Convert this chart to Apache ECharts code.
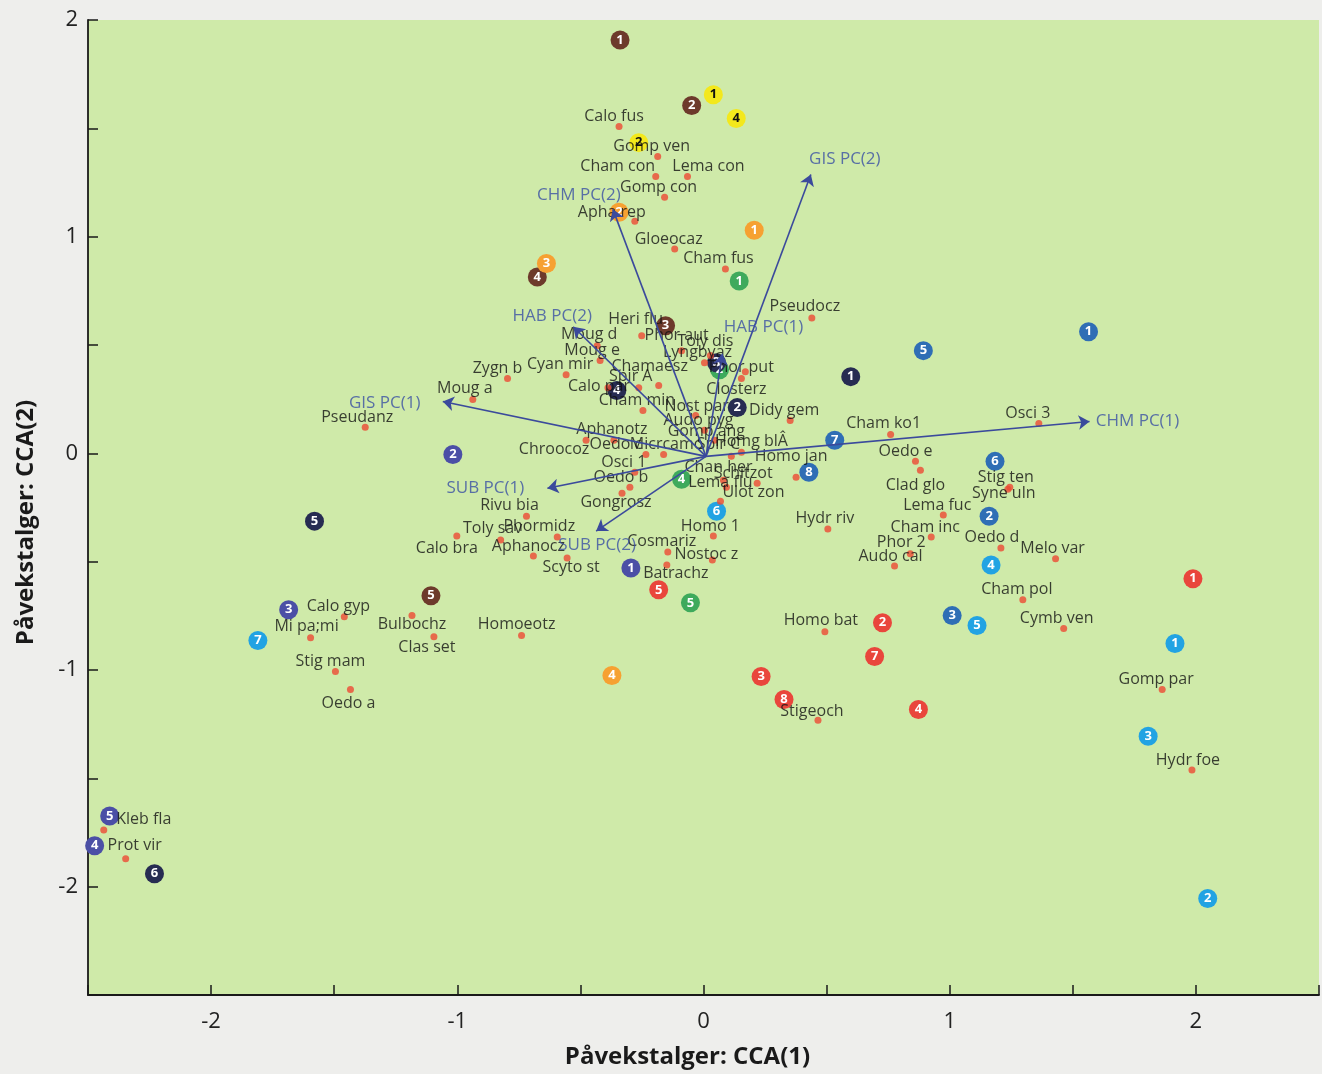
<!DOCTYPE html>
<html><head><meta charset="utf-8">
<script src="https://cdn.jsdelivr.net/npm/echarts@6/dist/echarts.min.js"></script>
<style>html,body{margin:0;padding:0;background:#eeeeec;} #c{width:1322px;height:1074px;}</style>
</head><body><div id="c"></div>
<script>
// ---- Species (red dots) ----
const speciesNames = ['Calo fus','Gomp ven','Cham con','Lema con','Gomp con','Apha rep','Gloeocaz','Cham fus','Pseudocz','Heri flu',
 'Phor aut','Moug d','Moug e','Toly dis','Lyngbyaz','Zygn b','Cyan mir','Chamaesz','Spir A','Calo par',
 'Phor put','Closterz','Moug a','Cham min','Nost par','Didy gem','Audo pyg','Gomp ang','Aphanotz','Chroocoz',
 'Oedo c','Micrcamo','Spir C','Homg blÂ','Homo jan','Osci 1','Chan her','Schitzot','Lema flu','Oedo b',
 'Gongrosz','Ulot zon','Homo 1','Cosmariz','Nostoc z','Batrachz','Rivu bia','Toly sav','Phormidz','Calo bra',
 'Aphanocz','Scyto st','Homoeotz','Pseudanz','Calo gyp','Mi pa;mi','Bulbochz','Clas set','Stig mam','Oedo a',
 'Kleb fla','Prot vir','Cham ko1','Osci 3','Oedo e','Clad glo','Stig ten','Syne uln','Lema fuc','Hydr riv',
 'Cham inc','Phor 2','Audo cal','Oedo d','Melo var','Cham pol','Homo bat','Cymb ven','Stigeoch','Gomp par','Hydr foe'];
const speciesX = [-0.343,-0.186,-0.194,-0.065,-0.158,-0.279,-0.117,0.089,0.440,-0.251,
 -0.089,-0.432,-0.420,0.028,0.004,-0.796,-0.558,-0.182,-0.263,-0.388,
 0.170,0.154,-0.937,-0.246,-0.032,0.352,0.004,0.044,-0.364,-0.477,
 -0.234,-0.162,0.113,0.154,0.376,-0.279,0.081,0.218,0.093,-0.299,
 -0.331,0.069,0.040,-0.145,0.036,-0.149,-0.719,-0.824,-0.594,-1.002,
 -0.691,-0.554,-0.739,-1.374,-1.459,-1.596,-1.184,-1.095,-1.495,-1.434,
 -2.436,-2.347,0.760,1.362,0.861,0.881,1.244,1.236,0.974,0.505,
 0.925,0.840,0.776,1.208,1.430,1.297,0.493,1.463,0.465,1.863,1.984];
const speciesY = [1.508,1.370,1.278,1.278,1.182,1.071,0.943,0.851,0.625,0.543,
 0.474,0.497,0.428,0.451,0.418,0.345,0.363,0.313,0.303,0.303,
 0.377,0.345,0.248,0.198,0.175,0.152,0.106,0.060,0.060,0.060,
 -0.005,-0.005,-0.014,0.005,-0.110,-0.087,-0.124,-0.138,-0.156,-0.156,
 -0.184,-0.221,-0.382,-0.455,-0.492,-0.515,-0.290,-0.400,-0.386,-0.382,
 -0.474,-0.483,-0.841,0.120,-0.754,-0.851,-0.749,-0.846,-1.007,-1.090,
 -1.738,-1.871,0.087,0.138,-0.037,-0.078,-0.156,-0.166,-0.285,-0.349,
 -0.386,-0.464,-0.520,-0.437,-0.487,-0.676,-0.823,-0.809,-1.232,-1.090,-1.462];

// ---- Sites (numbered circles), one list per group: [number, x, y] ----
const brownSites  = [[1,-0.339,1.908],[2,-0.048,1.605],[3,-0.154,0.589],[4,-0.675,0.814],[5,-1.107,-0.657]];
const yellowSites = [[1,0.040,1.655],[2,-0.263,1.434],[4,0.133,1.545]];
const orangeSites = [[1,0.206,1.030],[2,-0.343,1.113],[3,-0.638,0.876],[4,-0.372,-1.025]];
const greenSites  = [[1,0.145,0.795],[2,0.065,0.386],[4,-0.089,-0.120],[5,-0.053,-0.690]];
const navySites   = [[1,0.598,0.354],[2,0.137,0.211],[3,0.053,0.418],[4,-0.352,0.290],[5,-1.580,-0.313],[6,-2.230,-1.940]];
const indigoSites = [[1,-0.295,-0.529],[2,-1.018,-0.005],[3,-1.685,-0.722],[4,-2.473,-1.811],[5,-2.412,-1.674]];
const blueSites   = [[1,1.564,0.561],[2,1.160,-0.290],[3,1.010,-0.749],[5,0.893,0.474],[6,1.184,-0.037],[7,0.533,0.060],[8,0.428,-0.087]];
const cyanSites   = [[1,1.915,-0.878],[2,2.048,-2.055],[3,1.806,-1.306],[4,1.168,-0.515],[5,1.111,-0.795],[6,0.053,-0.267],[7,-1.810,-0.864]];
const redSites    = [[1,1.988,-0.579],[2,0.727,-0.782],[3,0.234,-1.030],[4,0.873,-1.182],[5,-0.182,-0.630],[7,0.695,-0.938],[8,0.327,-1.136]];

// ---- Environmental vectors ----
const vectorNames = ['GIS PC(2)','CHM PC(2)','HAB PC(2)','HAB PC(1)','GIS PC(1)','SUB PC(1)','SUB PC(2)','CHM PC(1)'];
const vectorX = [0.436,-0.368,-0.529,0.077,-1.059,-0.634,-0.436,1.568];
const vectorY = [1.287,1.126,0.584,0.460,0.239,-0.161,-0.359,0.147];
const vectorOrigin = [0.01,-0.014];

// ---- Tick labels ----
const xTickLabels = ['-2','-1','0','1','2'];
const yTickLabels = ['-2','-1','0','1','2'];

// ---- Label layout nudges (pixels) ----
const defaultNudge = [-6,-10];
const speciesNudge = {
 'Calo fus':[-5,-10],'Cham con':[-38,-10],'Lema con':[21,-10],'Apha rep':[-23,-9],'Heri flu':[-6,-16],
 'Phor aut':[-5,-15],'Moug d':[-8,-11],'Moug e':[-8,-10],'Toly dis':[-5,-14],'Lyngbyaz':[-7,-10],'Zygn b':[-10,-10],
 'Chamaesz':[-9,-19],'Spir A':[-8,-11],'Calo par':[-9,-1],'Phor put':[-4,-4],'Closterz':[-5,11],'Moug a':[-8,-11],
 'Nost par':[1,-9],'Gomp ang':[-8,-9],'Aphanotz':[-2,-11],'Chroocoz':[-32,9],'Oedo c':[-30,-10],'Micrcamo':[3,-10],
 'Spir C':[-13,-12],'Homg blÂ':[10,-11],'Homo jan':[-5,-21],'Osci 1':[-11,-10],'Chan her':[-5,-13],'Schitzot':[-14,-10],
 'Lema flu':[-6,-5],'Oedo b':[-9,-10],'Gongrosz':[-6,9],'Ulot zon':[33,-9],'Homo 1':[-3,-10],'Nostoc z':[-6,-5],
 'Batrachz':[9,9],'Rivu bia':[-17,-11],'Toly sav':[-8,-12],'Phormidz':[-18,-11],'Calo bra':[-10,12],'Aphanocz':[-5,-10],
 'Scyto st':[4,9],'Homoeotz':[-5,-11],'Pseudanz':[-8,-10],'Mi pa;mi':[-4,-11],'Bulbochz':[0,9],'Clas set':[-7,11],
 'Stig mam':[-5,-10],'Oedo a':[-2,14],'Kleb fla':[40,-10],'Prot vir':[9,-13],'Cham ko1':[-7,-11],'Osci 3':[-11,-10],
 'Oedo e':[-10,-10],'Clad glo':[-5,15],'Stig ten':[-4,-10],'Syne uln':[-4,4],'Hydr riv':[-3,-11],'Phor 2':[-9,-11],
 'Audo cal':[-4,-10],'Oedo d':[-9,-11],'Melo var':[-3,-10],'Homo bat':[-4,-11],'Cymb ven':[-7,-10],'Stigeoch':[-6,-9],
 'Hydr foe':[-4,-10],'Pseudocz':[-7,-11],'Cham fus':[-7,-11]
};
const vectorNudge = [[34,-15],[-34,-14],[-21,-11],[41,-27],[-58,2],[-62,0],[1,14],[48,0]];

const FONT = '"Open Sans", "Noto Sans", sans-serif';
const isInt = v => Math.abs(v - Math.round(v)) < 1e-9;

function siteSeries(list, color, textColor) {
  return {
    type: 'scatter', z: 2, symbol: 'circle', symbolSize: 19,
    itemStyle: { color: color, opacity: 1 },
    label: { show: true, position: 'inside', formatter: '{b}', color: textColor, fontSize: 13, fontWeight: 'bold', fontFamily: FONT },
    data: list.map(s => ({ name: String(s[0]), value: [s[1], s[2]] })),
    silent: true
  };
}

const speciesData = speciesNames.map((n, i) => ({
  name: n, value: [speciesX[i], speciesY[i]],
  label: { offset: speciesNudge[n] || defaultNudge }
}));

const chart = echarts.init(document.getElementById('c'), null, { renderer: 'canvas' });
chart.setOption({
  animation: false,
  backgroundColor: '#eeeeec',
  grid: { left: 88, top: 20, width: 1234, height: 980, show: true, backgroundColor: '#cfeaa9', borderWidth: 0 },
  xAxis: {
    type: 'value', min: -2.5, max: 2.5, interval: 0.5,
    axisLine: { onZero: false, lineStyle: { color: '#1a1a1a', width: 1.8 } },
    axisTick: { inside: true, length: 10, lineStyle: { color: '#1a1a1a', width: 1.5 } },
    splitLine: { show: false },
    axisLabel: { margin: 16, fontSize: 22, color: '#222', fontFamily: FONT,
      formatter: v => isInt(v) && xTickLabels.includes(String(Math.round(v))) ? String(Math.round(v)) : '' },
    name: 'Påvekstalger: CCA(1)', nameLocation: 'middle', nameGap: 50,
    nameTextStyle: { fontSize: 24, fontWeight: 'bold', color: '#1a1a1a', fontFamily: FONT, padding: [0, 32, 0, 0] }
  },
  yAxis: {
    type: 'value', min: -2.5, max: 2, interval: 0.5,
    axisLine: { onZero: false, lineStyle: { color: '#1a1a1a', width: 1.8 } },
    axisTick: { inside: true, length: 10, lineStyle: { color: '#1a1a1a', width: 1.5 } },
    splitLine: { show: false },
    axisLabel: { margin: 10, fontSize: 22, color: '#222', fontFamily: FONT,
      formatter: v => isInt(v) && yTickLabels.includes(String(Math.round(v))) ? String(Math.round(v)) : '' },
    name: 'Påvekstalger: CCA(2)', nameLocation: 'middle', nameGap: 50, nameRotate: 90,
    nameTextStyle: { fontSize: 24, fontWeight: 'bold', color: '#1a1a1a', fontFamily: FONT, padding: [0, 30, 0, 0] }
  },
  series: [
    siteSeries(brownSites, '#6d3a2b', '#fff'),
    siteSeries(yellowSites, '#f3e81c', '#111'),
    siteSeries(orangeSites, '#f6a132', '#fff'),
    siteSeries(greenSites, '#3eaa5c', '#fff'),
    siteSeries(navySites, '#272c52', '#fff'),
    siteSeries(indigoSites, '#4b4fa6', '#fff'),
    siteSeries(blueSites, '#2f6eb5', '#fff'),
    siteSeries(cyanSites, '#22a3e3', '#fff'),
    siteSeries(redSites, '#e9463c', '#fff'),
    {
      type: 'scatter', z: 3, symbol: 'circle', symbolSize: 7,
      itemStyle: { color: '#ec4a33' },
      label: { show: true, position: 'inside', formatter: '{b}', color: '#111', fontSize: 16, fontFamily: FONT },
      data: speciesData, silent: true
    },
    {
      type: 'lines', coordinateSystem: 'cartesian2d', z: 4,
      symbol: ['none', 'arrow'], symbolSize: [0, 11],
      lineStyle: { color: '#3b4a9c', width: 1.6, opacity: 1 },
      data: vectorNames.map((n, i) => ({ coords: [vectorOrigin, [vectorX[i], vectorY[i]]] })),
      silent: true
    },
    {
      type: 'scatter', z: 5, symbolSize: 0,
      label: { show: true, position: 'inside', formatter: '{b}', color: '#3a50a4', fontSize: 17, fontFamily: FONT },
      data: vectorNames.map((n, i) => ({ name: n, value: [vectorX[i], vectorY[i]], label: { offset: vectorNudge[i] } })),
      silent: true
    }
  ]
});
</script></body></html>
